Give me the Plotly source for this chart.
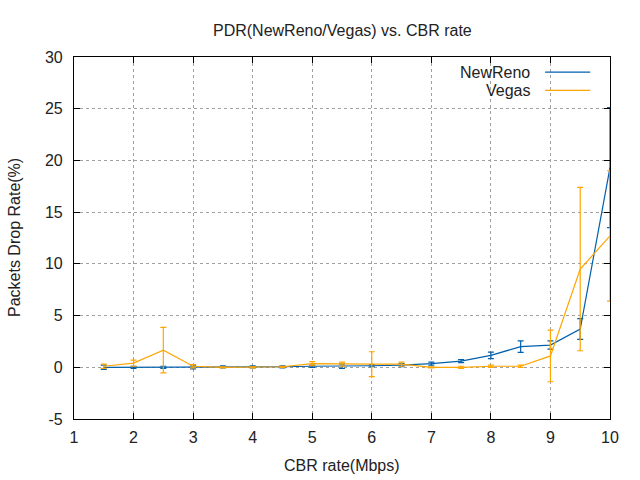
import plotly.graph_objects as go

# CBR rate (Mbps)
cbr_rate = [1.5, 2, 2.5, 3, 3.5, 4, 4.5, 5, 5.5, 6, 6.5, 7, 7.5, 8, 8.5, 9, 9.5, 10]

# packet drop rate (%) and its error
newreno_pdr = [0.0, 0.0, 0.0, 0.0, 0.05, 0.05, 0.05, 0.1, 0.1, 0.15, 0.2, 0.35, 0.6, 1.15, 2.0, 2.15, 3.7, 19.3]
newreno_err = [0.2, 0.1, 0.1, 0.15, 0.1, 0.1, 0.1, 0.1, 0.2, 0.1, 0.15, 0.15, 0.15, 0.32, 0.55, 0.4, 1.0, 5.8]
vegas_pdr = [0.1, 0.4, 1.65, 0.1, 0.0, 0.0, 0.05, 0.35, 0.3, 0.3, 0.3, 0.0, 0.0, 0.1, 0.1, 1.1, 9.5, 12.7]
vegas_err = [0.2, 0.3, 2.2, 0.15, 0.05, 0.05, 0.05, 0.2, 0.2, 1.2, 0.2, 0.05, 0.1, 0.1, 0.1, 2.5, 7.9, 6.3]

x_ticks = [1, 2, 3, 4, 5, 6, 7, 8, 9, 10]
y_ticks = [-5, 0, 5, 10, 15, 20, 25, 30]

blue = "#0060ad"
orange = "#ffa500"
font = "Liberation Sans, Arial, sans-serif"
txt = dict(size=16, color="#222222", family=font)

fig = go.Figure()
for name, y, err, col in [("NewReno", newreno_pdr, newreno_err, blue),
                          ("Vegas", vegas_pdr, vegas_err, orange)]:
    fig.add_trace(go.Scatter(
        x=cbr_rate, y=y, name=name, mode="lines",
        line=dict(color=col, width=1.2),
        error_y=dict(type="data", array=err, visible=True, color=col,
                     thickness=1.2, width=3),
        cliponaxis=False, showlegend=False,
    ))

# gnuplot style key, text right aligned with the line sample on its right
for i, (name, col) in enumerate([("NewReno", blue), ("Vegas", orange)]):
    yk = 0.958 - i * 0.05
    fig.add_annotation(x=0.855, y=yk, xref="paper", yref="paper", text=name,
                       showarrow=False, xanchor="right", yanchor="middle", font=txt)
    fig.add_shape(type="line", xref="paper", yref="paper", x0=0.879, x1=0.963,
                  y0=yk, y1=yk, line=dict(color=col, width=1.2))

# titles
fig.add_annotation(x=0.5, y=1, xref="paper", yref="paper", yshift=27,
                   text="PDR(NewReno/Vegas) vs. CBR rate", showarrow=False,
                   xanchor="center", yanchor="middle", font=txt)
fig.add_annotation(x=0.5, y=0, xref="paper", yref="paper", yshift=-46,
                   text="CBR rate(Mbps)", showarrow=False,
                   xanchor="center", yanchor="middle", font=txt)
fig.add_annotation(x=0, y=0.5, xref="paper", yref="paper", xshift=-60,
                   text="Packets Drop Rate(%)", showarrow=False, textangle=-90,
                   xanchor="center", yanchor="middle", font=txt)

axis_common = dict(
    showline=True, linecolor="black", linewidth=1.2, mirror="allticks",
    ticks="inside", ticklen=6, tickcolor="black",
    showgrid=True, gridcolor="#a0a0a0", griddash="3px,3px", gridwidth=1,
    zeroline=False, tickfont=txt,
)

fig.update_layout(
    width=640, height=480,
    margin=dict(l=74, r=30, t=57, b=61),
    paper_bgcolor="white", plot_bgcolor="white",
    xaxis=dict(range=[1, 10], tickvals=x_ticks, ticktext=[str(v) for v in x_ticks],
               ticklabelstandoff=4, **axis_common),
    yaxis=dict(range=[-5, 30], tickvals=y_ticks, ticktext=[str(v) for v in y_ticks],
               ticklabelstandoff=7, **axis_common),
)

# drop the page's default body margin so the figure fills the window
fig.write_html("out.html", config={"displayModeBar": False},
               post_script="document.body.style.margin='0';")
